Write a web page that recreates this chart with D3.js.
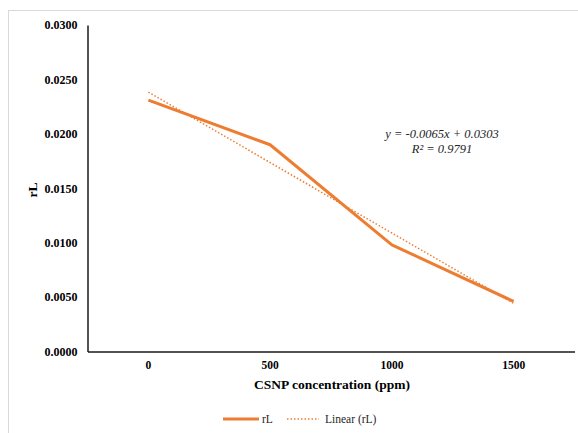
<!DOCTYPE html>
<html>
<head>
<meta charset="utf-8">
<script src="https://cdn.jsdelivr.net/npm/d3@7"></script>
<style>
  body { margin: 0; background: #fff; }
</style>
</head>
<body>
<div id="wrapper"></div>
<script>
// data
const categories = ["0", "500", "1000", "1500"];
const rLValues = [0.0231, 0.0190, 0.0098, 0.0046];
const yTicks = [0, 0.005, 0.010, 0.015, 0.020, 0.025, 0.030];
const equationLines = ["y = -0.0065x + 0.0303", "R² = 0.9791"];

function drawChart() {
  const dimensions = {
    width: 578,
    height: 433,
    margin: { top: 25, right: 3.5, bottom: 81.5, left: 87.5 },
  };
  dimensions.boundWidth = dimensions.width - dimensions.margin.left - dimensions.margin.right;
  dimensions.boundHeight = dimensions.height - dimensions.margin.top - dimensions.margin.bottom;

  const orange = "#ED7D31";
  const serif = "'Liberation Serif', 'Times New Roman', 'DejaVu Serif', serif";

  const svg = d3.select("#wrapper")
    .append("svg")
    .attr("width", dimensions.width)
    .attr("height", dimensions.height)
    .style("display", "block")
    .attr("font-family", serif);

  // chart frame (only left/top visible in crop)
  svg.append("rect")
    .attr("x", 8.5).attr("y", 10.5)
    .attr("width", 700).attr("height", 600)
    .attr("fill", "none")
    .attr("stroke", "#d9d9d9")
    .attr("stroke-width", 1);

  const bounds = svg.append("g")
    .attr("transform", `translate(${dimensions.margin.left}, ${dimensions.margin.top})`);

  // scales
  const xScale = d3.scaleBand()
    .domain(categories)
    .range([0, dimensions.boundWidth]);
  const xPos = d => xScale(d) + xScale.bandwidth() / 2;

  const yScale = d3.scaleLinear()
    .domain([0, 0.03])
    .range([dimensions.boundHeight, 0]);

  // y axis
  const yAxis = bounds.append("g")
    .call(d3.axisLeft(yScale).tickValues(yTicks).tickSize(0).tickPadding(10)
      .tickFormat(d3.format(".4f")))
    .attr("font-family", serif);
  yAxis.select(".domain").attr("stroke", "#1a1a1a").attr("stroke-width", 1.5);
  yAxis.selectAll("text")
    .style("font-family", serif)
    .attr("font-size", 12)
    .attr("font-weight", "bold")
    .attr("fill", "#000");

  // x axis
  const xAxis = bounds.append("g")
    .attr("transform", `translate(0, ${dimensions.boundHeight})`)
    .call(d3.axisBottom(xScale).tickSize(0).tickPadding(9))
    .attr("font-family", serif);
  xAxis.select(".domain").attr("stroke", "#1a1a1a").attr("stroke-width", 1.5);
  xAxis.selectAll("text")
    .style("font-family", serif)
    .attr("font-size", 11.5)
    .attr("font-weight", "bold")
    .attr("fill", "#000");

  // axis titles
  svg.append("text")
    .attr("x", 332)
    .attr("y", 389)
    .attr("text-anchor", "middle")
    .style("font-family", serif)
    .attr("font-size", 13.5)
    .attr("font-weight", "bold")
    .text("CSNP concentration (ppm)");

  svg.append("text")
    .attr("transform", `translate(37, 190) rotate(-90)`)
    .attr("text-anchor", "middle")
    .style("font-family", serif)
    .attr("font-size", 13.5)
    .attr("font-weight", "bold")
    .text("rL");

  // linear trend (least squares over category index 1..n)
  const xs = rLValues.map((d, i) => i + 1);
  const mx = d3.mean(xs), my = d3.mean(rLValues);
  const slope = d3.sum(xs, (x, i) => (x - mx) * (rLValues[i] - my)) / d3.sum(xs, x => (x - mx) ** 2);
  const intercept = my - slope * mx;
  const trend = categories.map((c, i) => ({ c, v: intercept + slope * (i + 1) }));

  const line = d3.line()
    .x(d => xPos(d.c))
    .y(d => yScale(d.v));

  bounds.append("path")
    .datum(categories.map((c, i) => ({ c, v: rLValues[i] })))
    .attr("d", line)
    .attr("fill", "none")
    .attr("stroke", orange)
    .attr("stroke-width", 3)
    .attr("stroke-linejoin", "round");

  bounds.append("path")
    .datum(trend)
    .attr("d", line)
    .attr("fill", "none")
    .attr("stroke", orange)
    .attr("stroke-width", 1.5)
    .attr("stroke-dasharray", "1.5,2");

  // equation
  svg.append("g")
    .selectAll("text")
    .data(equationLines)
    .join("text")
    .attr("x", 442)
    .attr("y", (d, i) => 138 + i * 15)
    .attr("text-anchor", "middle")
    .style("font-family", serif)
    .attr("font-size", 12.5)
    .attr("font-style", "italic")
    .attr("fill", "#262626")
    .text(d => d);

  // legend
  const legend = svg.append("g").attr("transform", "translate(0, 423)");
  legend.append("line")
    .attr("x1", 223).attr("x2", 259).attr("y1", -4).attr("y2", -4)
    .attr("stroke", orange).attr("stroke-width", 3);
  legend.append("text")
    .attr("x", 262).attr("y", 0)
    .style("font-family", serif)
    .attr("font-size", 11.5).attr("fill", "#262626")
    .text("rL");
  legend.append("line")
    .attr("x1", 287).attr("x2", 319).attr("y1", -4).attr("y2", -4)
    .attr("stroke", orange).attr("stroke-width", 1.5)
    .attr("stroke-dasharray", "1.5,2");
  legend.append("text")
    .attr("x", 325).attr("y", 0)
    .style("font-family", serif)
    .attr("font-size", 11.5).attr("fill", "#262626")
    .text("Linear (rL)");
}
drawChart();
</script>
</body>
</html>
